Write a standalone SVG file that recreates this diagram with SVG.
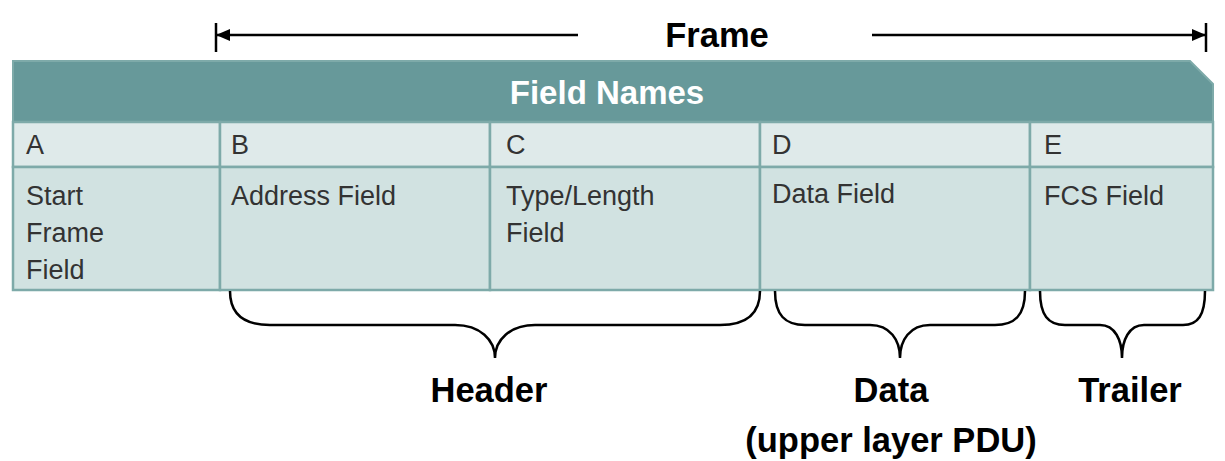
<svg xmlns="http://www.w3.org/2000/svg" width="1225" height="461" viewBox="0 0 1225 461">
<style>
.cell{stroke:#7eaaa9;stroke-width:2.5}
.let{fill:#dfeaea}
.fld{fill:#d1e2e1}
.t{font-family:"Liberation Sans",Arial,sans-serif;font-size:27px;fill:#333}
.lab{font-family:"Liberation Sans",Arial,sans-serif;font-size:34.5px;font-weight:bold;fill:#000;text-anchor:middle}
.brace{fill:none;stroke:#000;stroke-width:2.5}
.arr{stroke:#000;stroke-width:2.5}
</style>
<defs>
<marker id="ah" markerWidth="14" markerHeight="12" refX="13" refY="6" orient="auto" markerUnits="userSpaceOnUse">
<path d="M0,0 L14,6 L0,12 Z" fill="#000"/>
</marker>
</defs>
<rect width="1225" height="461" fill="#fff"/>
<g id="frame-arrow">
<line class="arr" x1="216" y1="23" x2="216" y2="52"/>
<line class="arr" x1="1206" y1="23" x2="1206" y2="52"/>
<line class="arr" x1="578" y1="35" x2="217" y2="35" marker-end="url(#ah)"/>
<line class="arr" x1="872" y1="35" x2="1205" y2="35" marker-end="url(#ah)"/>
<text class="lab" x="717" y="47">Frame</text>
</g>
<g id="header-bar">
<path d="M13,61 L1190,61 L1213,84 L1213,122 L13,122 Z" fill="#67999a" stroke="#7eaaa9" stroke-width="2"/>
<text x="607" y="104" font-family="'Liberation Sans',Arial,sans-serif" font-size="33" font-weight="bold" fill="#fff" text-anchor="middle">Field Names</text>
</g>
<g id="field-A">
<rect class="cell let" x="13" y="122" width="207" height="45"/>
<rect class="cell fld" x="13" y="167" width="207" height="123"/>
<text class="t" x="26" y="154">A</text>
<text class="t" x="26" y="205">Start</text>
<text class="t" x="26" y="242">Frame</text>
<text class="t" x="26" y="279">Field</text>
</g>
<g id="field-B">
<rect class="cell let" x="220" y="122" width="270" height="45"/>
<rect class="cell fld" x="220" y="167" width="270" height="123"/>
<text class="t" x="231" y="154">B</text>
<text class="t" x="231" y="205">Address Field</text>
</g>
<g id="field-C">
<rect class="cell let" x="490" y="122" width="270" height="45"/>
<rect class="cell fld" x="490" y="167" width="270" height="123"/>
<text class="t" x="506" y="154">C</text>
<text class="t" x="506" y="205">Type/Length</text>
<text class="t" x="506" y="242">Field</text>
</g>
<g id="field-D">
<rect class="cell let" x="760" y="122" width="270" height="45"/>
<rect class="cell fld" x="760" y="167" width="270" height="123"/>
<text class="t" x="772" y="154">D</text>
<text class="t" x="772" y="203">Data Field</text>
</g>
<g id="field-E">
<rect class="cell let" x="1030" y="122" width="183" height="45"/>
<rect class="cell fld" x="1030" y="167" width="183" height="123"/>
<text class="t" x="1044" y="154">E</text>
<text class="t" x="1044" y="205">FCS Field</text>
</g>
<g id="connectors">
<path class="brace" d="M230,291 C230,315 245,325 270,325 L455,325 C480,325 495,340 495,358 C495,340 510,325 535,325 L720,325 C745,325 760,315 760,291"/>
<path class="brace" d="M775,291 C775,315 785,325 805,325 L870,325 C890,325 900,340 900,358 C900,340 910,325 930,325 L995,325 C1015,325 1025,315 1025,291"/>
<path class="brace" d="M1040,291 C1040,315 1048,325 1065,325 L1100,325 C1115,325 1122,340 1122,358 C1122,340 1129,325 1144,325 L1183,325 C1198,325 1205,315 1205,291"/>
</g>
<g id="label-header"><text class="lab" x="489" y="402">Header</text></g>
<g id="label-data"><text class="lab" x="891" y="402">Data</text><text class="lab" x="891" y="452">(upper layer PDU)</text></g>
<g id="label-trailer"><text class="lab" x="1130" y="402">Trailer</text></g>
</svg>
